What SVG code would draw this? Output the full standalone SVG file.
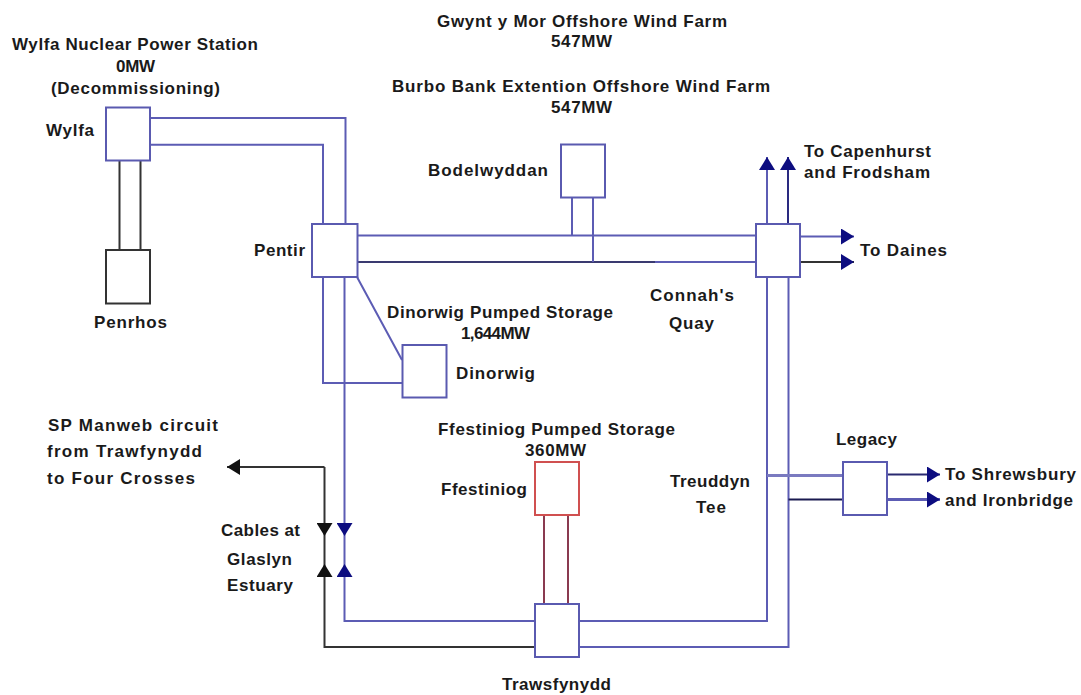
<svg xmlns="http://www.w3.org/2000/svg" width="1081" height="695" viewBox="0 0 1081 695">
<defs>
<style>
text{font-family:"Liberation Sans",Arial,sans-serif;font-size:17px;font-weight:bold;fill:#1a1a1a;text-anchor:start}
.box{fill:#fff;stroke:#5a5ab0;stroke-width:2}
.k{fill:#fff;stroke:#333;stroke-width:2}
.r{fill:#fff;stroke:#d05050;stroke-width:2}
.b{fill:none;stroke:#5c5cb4;stroke-width:2}
.d{fill:none;stroke:#333;stroke-width:2}
.m{fill:none;stroke:#8a3a50;stroke-width:2}
</style>
<marker id="an" markerUnits="userSpaceOnUse" markerWidth="14" markerHeight="16" refX="13" refY="8" orient="auto"><path d="M0 0L13 8L0 16z" fill="#0d0d80"/></marker>
<marker id="ak" markerUnits="userSpaceOnUse" markerWidth="14" markerHeight="16" refX="13" refY="8" orient="auto"><path d="M0 0L13 8L0 16z" fill="#111"/></marker>
</defs>
<rect width="1081" height="695" fill="#fff"/>
<g id="connectors">
<path class="d" d="M119.500 160.500V250M140.500 160.500V250"/>
<path class="b" d="M150 118H345.500V224M150 144.700H323V224"/>
<path class="b" d="M357 235.500H756M655 262H756"/>
<path class="d" d="M357 262H655" style="stroke:#3a3a70"/>
<path class="b" d="M572 197.500V235.500M593 197.500V262"/>
<path class="b" d="M767 224V157" marker-end="url(#an)"/>
<path class="b" d="M788 224V157" marker-end="url(#an)" style="stroke:#2a2a80"/>
<path class="b" d="M800 236.500H854" marker-end="url(#an)"/>
<path class="d" d="M800 262H854" marker-end="url(#an)"/>
<path class="b" d="M767 277V621H579M788.500 277V647H579"/>
<path class="b" d="M767 475.500H843" style="stroke:#7a7ac0;stroke-width:3"/>
<path class="d" d="M788.500 499.500H843" style="stroke:#1a1a50"/>
<path class="d" d="M887 474.500H940" marker-end="url(#an)" style="stroke:#2a2a70"/>
<path class="b" d="M887 499.500H940" marker-end="url(#an)" style="stroke-width:3"/>
<path class="b" d="M357 277L402 360M323 277V383H403"/>
<path class="b" d="M344.500 277V536" marker-end="url(#an)"/>
<path class="b" d="M344.500 536V564"/>
<path class="b" d="M535 621H344.500V564" marker-end="url(#an)"/>
<path class="d" d="M535 647H324.500V564" marker-end="url(#ak)"/>
<path class="d" d="M324.500 536V564"/>
<path class="d" d="M324.500 467H227" marker-end="url(#ak)"/>
<path class="d" d="M324.500 467V536" marker-end="url(#ak)"/>
<path class="m" d="M544 515V604M568 515V604"/>
</g>
<g id="wylfa"><rect class="box" x="106" y="107.500" width="44" height="53"/><text x="46" y="136" textLength="48">Wylfa</text></g>
<g id="penrhos"><rect class="k" x="106" y="250" width="44" height="53.500"/><text x="94" y="328" textLength="73">Penrhos</text></g>
<g id="pentir"><rect class="box" x="312" y="224" width="45.500" height="53"/><text x="254" y="256" textLength="51">Pentir</text></g>
<g id="bodelwyddan"><rect class="box" x="561" y="144.500" width="44" height="53"/><text x="428" y="176" textLength="120">Bodelwyddan</text></g>
<g id="connahs-quay"><rect class="box" x="756" y="224" width="44" height="53"/><text x="650" y="301" textLength="84">Connah's</text><text x="669" y="329" textLength="45">Quay</text></g>
<g id="dinorwig"><rect class="box" x="402.500" y="345" width="44" height="52.500"/><text x="456" y="379" textLength="79">Dinorwig</text></g>
<g id="ffestiniog"><rect class="r" x="535" y="462" width="44" height="53"/><text x="441" y="495" textLength="86">Ffestiniog</text></g>
<g id="trawsfynydd"><rect class="box" x="535" y="604" width="44" height="53"/><text x="502" y="690" textLength="109">Trawsfynydd</text></g>
<g id="legacy"><rect class="box" x="843" y="462" width="44" height="53"/><text x="836" y="445" textLength="61">Legacy</text></g>
<g id="labels">
<text x="12" y="50" textLength="246">Wylfa Nuclear Power Station</text>
<text x="116" y="72" textLength="39">0MW</text>
<text x="51" y="94" textLength="169">(Decommissioning)</text>
<text x="437" y="27" textLength="290">Gwynt y Mor Offshore Wind Farm</text>
<text x="551" y="47" textLength="61">547MW</text>
<text x="392" y="92" textLength="378">Burbo Bank Extention  Offshore Wind Farm</text>
<text x="551" y="113" textLength="61">547MW</text>
<text x="387" y="318" textLength="226">Dinorwig Pumped Storage</text>
<text x="461" y="339" textLength="69">1,644MW</text>
<text x="438" y="435" textLength="237">Ffestiniog Pumped Storage</text>
<text x="525" y="456" textLength="61">360MW</text>
<text x="804" y="157" textLength="127">To Capenhurst</text>
<text x="804" y="178" textLength="126">and Frodsham</text>
<text x="860" y="256" textLength="87">To Daines</text>
<text x="670" y="487" textLength="80">Treuddyn</text>
<text x="696" y="513" textLength="30">Tee</text>
<text x="945" y="480" textLength="131">To Shrewsbury</text>
<text x="945" y="506" textLength="128">and Ironbridge</text>
<text x="48" y="431" textLength="170">SP Manweb circuit</text>
<text x="47" y="457" textLength="155">from Trawfynydd</text>
<text x="47" y="484" textLength="148">to Four Crosses</text>
<text x="221" y="536" textLength="79">Cables at</text>
<text x="227" y="565" textLength="65">Glaslyn</text>
<text x="227" y="591" textLength="66">Estuary</text>
</g>
</svg>
